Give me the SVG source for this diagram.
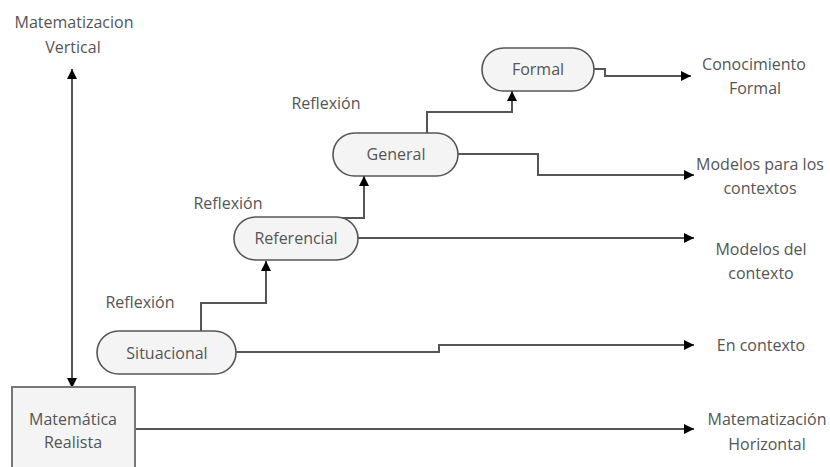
<svg xmlns="http://www.w3.org/2000/svg" width="830" height="467" viewBox="0 0 830 467">
  <style>
    .lbl { font-family: "Open Sans", "Noto Sans", sans-serif; font-size: 16px; fill: #555; text-anchor: middle; }
    .pill { fill: #f4f4f4; stroke: #555; stroke-width: 1.6; }
    .box { fill: #f4f4f4; stroke: #777; stroke-width: 2; }
    .wire { fill: none; stroke: #555; stroke-width: 2; }
  </style>
  <defs>
    <marker id="head" viewBox="0 0 10 10" refX="10" refY="5" markerWidth="12" markerHeight="10" markerUnits="userSpaceOnUse" orient="auto">
      <path d="M0,0 L10,5 L0,10 Z" fill="#000"/>
    </marker>
    <marker id="tail" viewBox="0 0 10 10" refX="0" refY="5" markerWidth="12" markerHeight="10" markerUnits="userSpaceOnUse" orient="auto">
      <path d="M10,0 L0,5 L10,10 Z" fill="#000"/>
    </marker>
  </defs>

  <rect width="830" height="467" fill="#fff"/>

  <!-- connectors -->
  <g id="connectors">
    <path class="wire" d="M72,69 V388" marker-start="url(#tail)" marker-end="url(#head)"/>
    <path class="wire" d="M136,429 H694" marker-end="url(#head)"/>
    <path class="wire" d="M236,352 H439 V345 H694" marker-end="url(#head)"/>
    <path class="wire" d="M201,331 V303 H266 V261" marker-end="url(#head)"/>
    <path class="wire" d="M358,238 H694" marker-end="url(#head)"/>
    <path class="wire" d="M338,218 H364 V176" marker-end="url(#head)"/>
    <path class="wire" d="M458,154 H538 V175 H694" marker-end="url(#head)"/>
    <path class="wire" d="M427,133 V112 H512 V91" marker-end="url(#head)"/>
    <path class="wire" d="M594,69 H605 V76 H691" marker-end="url(#head)"/>
  </g>

  <!-- nodes -->
  <g id="realista">
    <rect class="box" x="12" y="387" width="123" height="90"/>
    <text class="lbl" x="73" y="425">Matemática</text>
    <text class="lbl" x="73" y="448">Realista</text>
  </g>
  <g id="situacional">
    <rect class="pill" x="97" y="331" width="139" height="43" rx="21.5"/>
    <text class="lbl" x="167" y="359">Situacional</text>
  </g>
  <g id="referencial">
    <rect class="pill" x="234" y="217" width="124" height="43" rx="21.5"/>
    <text class="lbl" x="296" y="244">Referencial</text>
  </g>
  <g id="general">
    <rect class="pill" x="333" y="133" width="125" height="43" rx="21.5"/>
    <text class="lbl" x="396" y="160">General</text>
  </g>
  <g id="formal">
    <rect class="pill" x="482" y="48" width="112" height="43" rx="21.5"/>
    <text class="lbl" x="538" y="75">Formal</text>
  </g>

  <!-- free labels -->
  <g id="labels">
    <text class="lbl" x="74" y="28">Matematizacion</text>
    <text class="lbl" x="73" y="53">Vertical</text>
    <text class="lbl" x="140" y="308">Reflexión</text>
    <text class="lbl" x="228" y="209">Reflexión</text>
    <text class="lbl" x="326" y="109">Reflexión</text>
    <text class="lbl" x="754" y="70">Conocimiento</text>
    <text class="lbl" x="755" y="94">Formal</text>
    <text class="lbl" x="760" y="170">Modelos para los</text>
    <text class="lbl" x="760" y="194">contextos</text>
    <text class="lbl" x="761" y="255">Modelos del</text>
    <text class="lbl" x="761" y="279">contexto</text>
    <text class="lbl" x="761" y="351">En contexto</text>
    <text class="lbl" x="767" y="425">Matematización</text>
    <text class="lbl" x="767" y="450">Horizontal</text>
  </g>
</svg>
